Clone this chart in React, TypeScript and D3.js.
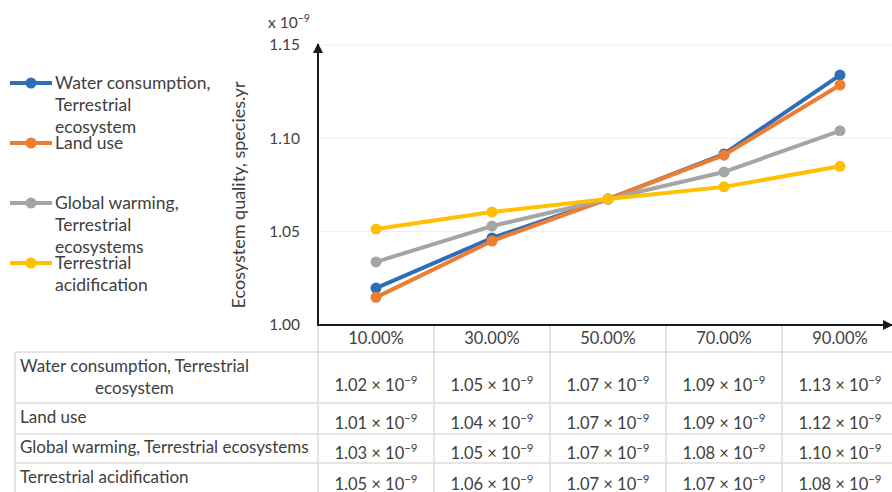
import React, { useEffect, useRef } from "react";
import * as d3 from "d3";

const categories = ["10.00%", "30.00%", "50.00%", "70.00%", "90.00%"];
const waterConsumption = [1.0198, 1.0466, 1.0675, 1.0916, 1.1339];
const landUse = [1.0148, 1.045, 1.0675, 1.091, 1.1286];
const globalWarming = [1.0338, 1.053, 1.0675, 1.082, 1.104];
const acidification = [1.0514, 1.0605, 1.0675, 1.074, 1.085];
const seriesColors = ["#2E6EB6", "#ED7D31", "#A5A5A5", "#FFC000"];
const legendLabels = [
  ["Water consumption,", "Terrestrial", "ecosystem"],
  ["Land use"],
  ["Global warming,", "Terrestrial", "ecosystems"],
  ["Terrestrial", "acidification"],
];
const yTicks = [1.0, 1.05, 1.1, 1.15];
const tableLabels = [
  ["Water consumption, Terrestrial", "ecosystem"],
  ["Land use"],
  ["Global warming, Terrestrial ecosystems"],
  ["Terrestrial acidification"],
];
const tableWater = ["1.02", "1.05", "1.07", "1.09", "1.13"];
const tableLand = ["1.01", "1.04", "1.07", "1.09", "1.12"];
const tableGlobal = ["1.03", "1.05", "1.07", "1.08", "1.10"];
const tableAcid = ["1.05", "1.06", "1.07", "1.07", "1.08"];

const W = 892;
const H = 492;
const FONT = "Lato, 'Open Sans', sans-serif";
const TEXT = "#404040";

export default function App() {
  const ref = useRef<SVGSVGElement | null>(null);

  useEffect(() => {
    const svg = d3.select(ref.current);
    svg.selectAll("*").remove();

    const series = [waterConsumption, landUse, globalWarming, acidification];
    const tables = [tableWater, tableLand, tableGlobal, tableAcid];

    const left = 318;
    const x = d3.scaleBand<string>().domain(categories).range([left, left + 116 * 5]);
    const y = d3.scaleLinear().domain([1.0, 1.15]).range([325, 45]);

    // gridlines
    svg
      .append("g")
      .selectAll("line")
      .data(yTicks.slice(1))
      .join("line")
      .attr("x1", left)
      .attr("x2", W)
      .attr("y1", (d) => y(d))
      .attr("y2", (d) => y(d))
      .attr("stroke", "#EDEDED")
      .attr("stroke-width", 1);

    // y tick labels
    svg
      .append("g")
      .selectAll("text")
      .data(yTicks)
      .join("text")
      .attr("x", 300)
      .attr("y", (d) => y(d))
      .attr("dy", "0.35em")
      .attr("text-anchor", "end")
      .attr("font-family", FONT)
      .attr("font-size", 15.5)
      .attr("fill", TEXT)
      .text((d) => d3.format(".2f")(d));

    // multiplier
    const mult = svg
      .append("text")
      .attr("x", 268)
      .attr("y", 28)
      .attr("font-family", FONT)
      .attr("font-size", 15.5)
      .attr("fill", TEXT);
    mult.append("tspan").text("x 10");
    mult.append("tspan").attr("dy", -6).attr("font-size", 10.5).text("−9");

    // y title
    svg
      .append("text")
      .attr("transform", `translate(245, 195) rotate(-90)`)
      .attr("text-anchor", "middle")
      .attr("font-family", FONT)
      .attr("font-size", 18)
      .attr("fill", TEXT)
      .text("Ecosystem quality, species.yr");

    // table grid
    const g = svg.append("g").attr("stroke", "#DDDDDD").attr("stroke-width", 1.5);
    const rowLines = [352, 403, 434, 463];
    rowLines.forEach((ry) => {
      g.append("line").attr("x1", 15).attr("x2", W).attr("y1", ry).attr("y2", ry);
    });
    g.append("line").attr("x1", 15).attr("x2", 15).attr("y1", 352).attr("y2", H);
    categories.forEach((c) => {
      const bx = x(c)!;
      g.append("line").attr("x1", bx).attr("x2", bx).attr("y1", 325).attr("y2", H);
    });

    // category labels
    svg
      .append("g")
      .selectAll("text")
      .data(categories)
      .join("text")
      .attr("x", (d) => x(d)! + x.bandwidth() / 2)
      .attr("y", 344)
      .attr("text-anchor", "middle")
      .attr("font-family", FONT)
      .attr("font-size", 16.5)
      .attr("fill", TEXT)
      .text((d) => d);

    // table row labels
    const labelBase = [372, 423, 453, 483];
    tableLabels.forEach((lines, i) => {
      const t0 = svg
        .append("text")
        .attr("x", 20)
        .attr("y", labelBase[i])
        .attr("font-family", FONT)
        .attr("font-size", 17)
        .attr("fill", TEXT)
        .text(lines[0]);
      if (lines.length > 1) {
        const w = (t0.node() as SVGTextElement).getComputedTextLength();
        svg
          .append("text")
          .attr("x", 20 + w / 2)
          .attr("y", labelBase[i] + 22)
          .attr("text-anchor", "middle")
          .attr("font-family", FONT)
          .attr("font-size", 17)
          .attr("fill", TEXT)
          .text(lines[1]);
      }
    });

    // table values
    const valueBase = [391, 429, 459, 490];
    tables.forEach((vals, i) => {
      vals.forEach((v, j) => {
        const t = svg
          .append("text")
          .attr("x", x(categories[j])! + x.bandwidth() / 2)
          .attr("y", valueBase[i])
          .attr("text-anchor", "middle")
          .attr("font-family", FONT)
          .attr("font-size", 16.5)
          .attr("fill", TEXT);
        t.append("tspan").text(`${v} × 10`);
        t.append("tspan").attr("dy", -7).attr("font-size", 11.5).text("−9");
      });
    });

    // axes with arrows
    const defs = svg.append("defs");
    defs
      .append("marker")
      .attr("id", "arrow")
      .attr("viewBox", "0 0 10 10")
      .attr("refX", 9)
      .attr("refY", 5)
      .attr("markerWidth", 5)
      .attr("markerHeight", 5)
      .attr("markerUnits", "strokeWidth")
      .attr("orient", "auto")
      .append("path")
      .attr("d", "M0,0 L10,5 L0,10 z")
      .attr("fill", "#1a1a1a");

    svg
      .append("line")
      .attr("x1", left)
      .attr("x2", left)
      .attr("y1", 326)
      .attr("y2", 44)
      .attr("stroke", "#1a1a1a")
      .attr("stroke-width", 2)
      .attr("marker-end", "url(#arrow)");
    svg
      .append("line")
      .attr("x1", left - 1)
      .attr("x2", W)
      .attr("y1", 325)
      .attr("y2", 325)
      .attr("stroke", "#1a1a1a")
      .attr("stroke-width", 2)
      .attr("marker-end", "url(#arrow)");

    // series lines
    const line = d3
      .line<number>()
      .x((_, i) => x(categories[i])! + x.bandwidth() / 2)
      .y((d) => y(d));

    series.forEach((s, i) => {
      svg
        .append("path")
        .attr("d", line(s)!)
        .attr("fill", "none")
        .attr("stroke", seriesColors[i])
        .attr("stroke-width", 4)
        .attr("stroke-linejoin", "round");
      svg
        .append("g")
        .selectAll("circle")
        .data(s)
        .join("circle")
        .attr("cx", (_, k) => x(categories[k])! + x.bandwidth() / 2)
        .attr("cy", (d) => y(d))
        .attr("r", 5.5)
        .attr("fill", seriesColors[i]);
    });

    // legend
    const legendY = [83, 143, 203, 263];
    legendLabels.forEach((lines, i) => {
      const ly = legendY[i];
      svg
        .append("line")
        .attr("x1", 10)
        .attr("x2", 52)
        .attr("y1", ly)
        .attr("y2", ly)
        .attr("stroke", seriesColors[i])
        .attr("stroke-width", 4);
      svg.append("circle").attr("cx", 31).attr("cy", ly).attr("r", 5.5).attr("fill", seriesColors[i]);
      lines.forEach((ln, k) => {
        svg
          .append("text")
          .attr("x", 55)
          .attr("y", ly + k * 22)
          .attr("dy", "0.35em")
          .attr("font-family", FONT)
          .attr("font-size", 17.5)
          .attr("fill", TEXT)
          .text(ln);
      });
    });
  }, []);

  return (
    <svg
      ref={ref}
      width={W}
      height={H}
      style={{ position: "absolute", left: 0, top: 0, background: "#fff" }}
    />
  );
}
